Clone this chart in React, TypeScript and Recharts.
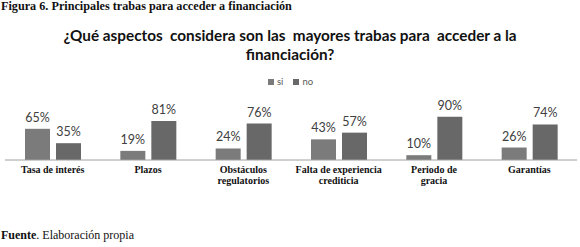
import { BarChart, Bar, XAxis, YAxis, LabelList } from 'recharts';

const categories = [
  'Tasa de interés',
  'Plazos',
  'Obstáculos\nregulatorios',
  'Falta de experiencia\ncrediticia',
  'Periodo de\ngracia',
  'Garantías',
];
const siValues = [65, 19, 24, 43, 10, 26];
const noValues = [35, 81, 76, 57, 90, 74];

const chartData = categories.map((name, i) => ({ name, si: siValues[i], no: noValues[i] }));

const SI_COLOR = '#7b7b7b';
const NO_COLOR = '#686868';

const series = [
  { key: 'si', color: SI_COLOR },
  { key: 'no', color: NO_COLOR },
];

// category labels are wrapped on "\n", like the source figure
const CategoryTick = (props: any) => {
  const { x, y, payload } = props;
  const lines: string[] = String(payload.value).split('\n');
  return (
    <text
      x={x}
      y={y + 5}
      textAnchor="middle"
      fontFamily="'Liberation Serif', serif"
      fontWeight="bold"
      fontSize={10}
      fill="#111"
    >
      {lines.map((line, i) => (
        <tspan key={i} x={x} dy={i === 0 ? 0 : 11}>
          {line}
        </tspan>
      ))}
    </text>
  );
};

const pct = (v: any) => `${v}%`;

const labelStyle = { fontFamily: 'Lato, sans-serif', fontSize: 12.5, fill: '#404040' };

export default function App() {
  return (
    <div style={{ position: 'absolute', left: 0, top: 0, width: 580, height: 247, background: '#fff' }}>
      <div
        style={{
          position: 'absolute',
          left: 1,
          top: 0,
          fontFamily: "'Liberation Serif', serif",
          fontWeight: 'bold',
          fontSize: 12.2,
          lineHeight: '13px',
          color: '#111',
          whiteSpace: 'nowrap',
        }}
      >
        Figura 6. Principales trabas para acceder a financiación
      </div>

      <div
        style={{
          position: 'absolute',
          left: 0,
          top: 26,
          width: 580,
          textAlign: 'center',
          fontFamily: 'Lato, sans-serif',
          fontWeight: 'bold',
          fontSize: 15.3,
          lineHeight: '19px',
          color: '#111',
          whiteSpace: 'pre',
        }}
      >
        {'¿Qué aspectos  considera son las  mayores trabas para  acceder a la\nfinanciación?'}
      </div>

      {/* legend */}
      <div
        style={{
          position: 'absolute',
          left: 268,
          top: 76,
          display: 'flex',
          alignItems: 'center',
          fontFamily: 'Lato, sans-serif',
          fontSize: 9.5,
          color: '#595959',
          whiteSpace: 'nowrap',
        }}
      >
        {series.map((s) => (
          <span key={s.key} style={{ display: 'flex', alignItems: 'center', marginRight: 10 }}>
            <span style={{ width: 6, height: 6, background: s.color, marginRight: 3, display: 'inline-block' }} />
            {s.key}
          </span>
        ))}
      </div>

      <div style={{ position: 'absolute', left: 0, top: 0 }}>
        <BarChart
          width={580}
          height={200}
          data={chartData}
          margin={{ top: 112, right: 3, left: 5, bottom: 0 }}
          barSize={25}
          barGap={6}
        >
          <XAxis
            dataKey="name"
            axisLine={{ stroke: '#a0a0a0' }}
            tickLine={false}
            tick={<CategoryTick />}
            interval={0}
            height={40}
          />
          <YAxis hide domain={[0, 100]} />
          <Bar dataKey="si" name="si" fill={SI_COLOR} isAnimationActive={false}>
            <LabelList dataKey="si" position="top" offset={7} formatter={pct} style={labelStyle} />
          </Bar>
          <Bar dataKey="no" name="no" fill={NO_COLOR} isAnimationActive={false}>
            <LabelList dataKey="no" position="top" offset={7} formatter={pct} style={labelStyle} />
          </Bar>
        </BarChart>
      </div>

      <div
        style={{
          position: 'absolute',
          left: 1,
          top: 228,
          fontFamily: "'Liberation Serif', serif",
          fontSize: 12,
          color: '#111',
          whiteSpace: 'nowrap',
        }}
      >
        <b>Fuente</b>. Elaboración propia
      </div>
    </div>
  );
}
